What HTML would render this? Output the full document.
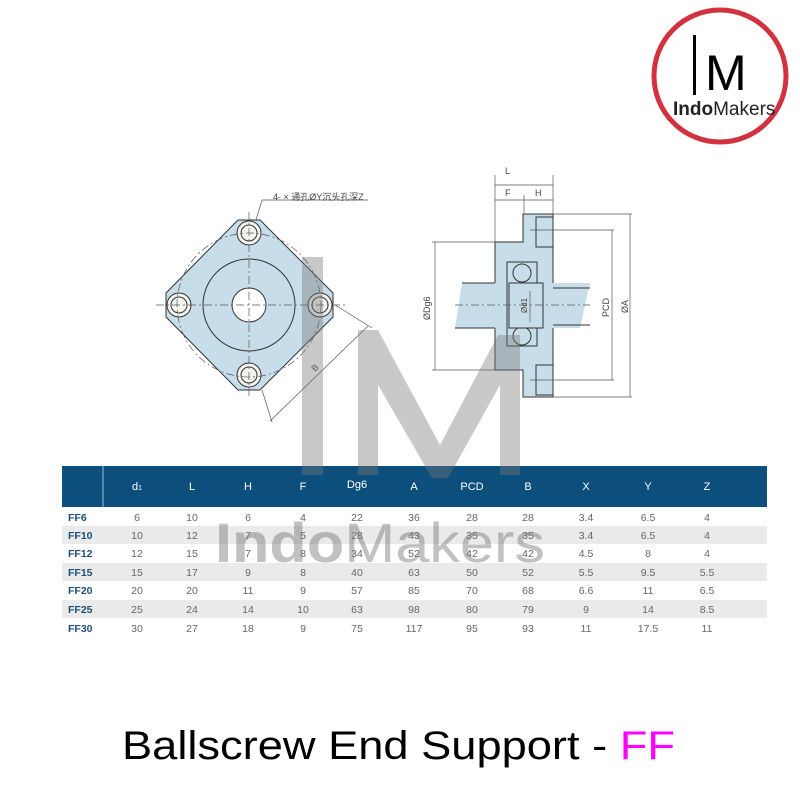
<!DOCTYPE html>
<html><head><meta charset="utf-8"><style>
html,body{margin:0;padding:0;background:#fff;}
svg{display:block;}
</style></head><body>
<svg width="800" height="800" viewBox="0 0 800 800" xmlns="http://www.w3.org/2000/svg" font-family="Liberation Sans, sans-serif">
<!-- logo -->
<circle cx="720" cy="76" r="66" fill="#fff" stroke="#d2323f" stroke-width="5"/>
<rect x="693" y="35" width="3" height="60" fill="#000"/>
<text x="705" y="90" font-size="50" fill="#000" font-weight="300">M</text>
<text x="673" y="115" font-size="19" fill="#222"><tspan font-weight="bold">Indo</tspan>Makers</text>

<!-- left drawing -->
<g stroke="#333" stroke-width="1">
<polygon points="238,220 260,220 333,293 333,317 260,390 238,390 166,317 166,293" fill="#c7dde9"/>
<circle cx="249" cy="305" r="46" fill="#c7dde9"/>
<circle cx="249" cy="305" r="17" fill="#fff"/>
<g fill="#f3f3f0">
<circle cx="249" cy="233" r="12"/><circle cx="179" cy="305" r="12"/><circle cx="320" cy="305" r="12"/><circle cx="249" cy="375" r="12"/>
</g>
<g fill="none"><circle cx="249" cy="233" r="8"/><circle cx="179" cy="305" r="8"/><circle cx="320" cy="305" r="8"/><circle cx="249" cy="375" r="8"/></g>
</g>
<g stroke="#555" stroke-width="0.7" stroke-dasharray="8,3,2,3" fill="none">
<line x1="156" y1="305" x2="345" y2="305"/><line x1="249" y1="212" x2="249" y2="398"/>
<circle cx="249" cy="305" r="72"/>
</g>
<g stroke="#555" stroke-width="0.7" fill="none">
<line x1="335" y1="305" x2="372" y2="328"/><line x1="262" y1="390" x2="272" y2="422"/>
<line x1="270" y1="421" x2="368" y2="326"/>
<line x1="262" y1="200" x2="368" y2="200"/><line x1="262" y1="200" x2="256" y2="220"/>
</g>
<text x="273" y="200" font-size="9" fill="#444" font-family="Liberation Sans, Noto Sans CJK SC, sans-serif">4- × 通孔ØY沉头孔深Z</text>
<text x="315" y="372" font-size="9" fill="#444" transform="rotate(-45 315 372)">B</text>

<!-- right drawing -->
<g stroke="#333" stroke-width="1" fill="#c7dde9">
<polygon points="495,242 523,242 523,214 553,214 553,397 523,397 523,370 495,370"/>
<polygon points="462,283 590,283 580,328 455,328" stroke="none"/>
<line x1="462" y1="283" x2="495" y2="283"/><line x1="455" y1="328" x2="495" y2="328"/>
<line x1="553" y1="288" x2="590" y2="288"/><line x1="553" y1="325" x2="590" y2="325"/>
<rect x="507" y="262" width="30" height="84" fill="#c7dde9"/>
<circle cx="522" cy="273" r="9" fill="#c7dde9"/><circle cx="522" cy="336" r="9" fill="#c7dde9"/>
<rect x="509" y="283" width="34" height="45" fill="#c7dde9"/>
<rect x="536" y="217" width="17" height="30" fill="#c7dde9"/><rect x="536" y="365" width="17" height="30" fill="#c7dde9"/>
</g>
<g stroke="#555" stroke-width="0.7" fill="none">
<line x1="495" y1="175" x2="495" y2="242"/><line x1="553" y1="175" x2="553" y2="214"/>
<line x1="495" y1="185" x2="553" y2="185"/><line x1="495" y1="200" x2="553" y2="200"/><line x1="524" y1="195" x2="524" y2="214"/>
<line x1="432" y1="242" x2="495" y2="242"/><line x1="432" y1="370" x2="495" y2="370"/><line x1="435" y1="242" x2="435" y2="370"/>
<line x1="553" y1="214" x2="632" y2="214"/><line x1="553" y1="397" x2="632" y2="397"/>
<line x1="530" y1="230" x2="614" y2="230"/><line x1="530" y1="380" x2="614" y2="380"/>
<line x1="612" y1="230" x2="612" y2="380"/><line x1="630" y1="214" x2="630" y2="397"/>
<line x1="530" y1="291" x2="530" y2="322"/>
<line x1="455" y1="305" x2="590" y2="305" stroke-dasharray="8,3,2,3"/>
</g>
<text x="505" y="174" font-size="9" fill="#444">L</text>
<text x="505" y="196" font-size="9" fill="#444">F</text>
<text x="535" y="196" font-size="9" fill="#444">H</text>
<text x="430" y="320" font-size="9" fill="#444" transform="rotate(-90 430 320)">ØDg6</text>
<text x="527" y="313" font-size="8" fill="#444" transform="rotate(-90 527 313)">Ød1</text>
<text x="609" y="317" font-size="9" fill="#444" transform="rotate(-90 609 317)">PCD</text>
<text x="628" y="313" font-size="9" fill="#444" transform="rotate(-90 628 313)">ØA</text>

<!-- table -->
<rect x="62" y="466" width="705" height="41" fill="#0d4f7c"/>
<line x1="103" y1="466" x2="103" y2="507" stroke="#9fbbd0" stroke-width="1"/>
<g fill="#eaeaea"><rect x="62" y="526" width="705" height="18"/><rect x="62" y="563" width="705" height="18"/><rect x="62" y="600" width="705" height="18"/></g>
<g font-size="11" fill="#fff" text-anchor="middle">
<text x="137" y="490">d<tspan font-size="7">1</tspan></text><text x="192" y="490">L</text><text x="248" y="490">H</text><text x="303" y="490">F</text><text x="357" y="488">Dg6</text><text x="414" y="490">A</text><text x="472" y="490">PCD</text><text x="528" y="490">B</text><text x="586" y="490">X</text><text x="648" y="490">Y</text><text x="707" y="490">Z</text>
</g>
<g font-size="10.5" font-weight="bold" fill="#1c4f78">
<text x="68" y="521">FF6</text><text x="68" y="539">FF10</text><text x="68" y="557">FF12</text><text x="68" y="576">FF15</text><text x="68" y="594">FF20</text><text x="68" y="613">FF25</text><text x="68" y="632">FF30</text>
</g>
<g font-size="10.5" fill="#666" text-anchor="middle">
<g transform="translate(0,521)"><text x="137">6</text><text x="192">10</text><text x="248">6</text><text x="303">4</text><text x="357">22</text><text x="414">36</text><text x="472">28</text><text x="528">28</text><text x="586">3.4</text><text x="648">6.5</text><text x="707">4</text></g>
<g transform="translate(0,539)"><text x="137">10</text><text x="192">12</text><text x="248">7</text><text x="303">5</text><text x="357">28</text><text x="414">43</text><text x="472">35</text><text x="528">35</text><text x="586">3.4</text><text x="648">6.5</text><text x="707">4</text></g>
<g transform="translate(0,557)"><text x="137">12</text><text x="192">15</text><text x="248">7</text><text x="303">8</text><text x="357">34</text><text x="414">52</text><text x="472">42</text><text x="528">42</text><text x="586">4.5</text><text x="648">8</text><text x="707">4</text></g>
<g transform="translate(0,576)"><text x="137">15</text><text x="192">17</text><text x="248">9</text><text x="303">8</text><text x="357">40</text><text x="414">63</text><text x="472">50</text><text x="528">52</text><text x="586">5.5</text><text x="648">9.5</text><text x="707">5.5</text></g>
<g transform="translate(0,594)"><text x="137">20</text><text x="192">20</text><text x="248">11</text><text x="303">9</text><text x="357">57</text><text x="414">85</text><text x="472">70</text><text x="528">68</text><text x="586">6.6</text><text x="648">11</text><text x="707">6.5</text></g>
<g transform="translate(0,613)"><text x="137">25</text><text x="192">24</text><text x="248">14</text><text x="303">10</text><text x="357">63</text><text x="414">98</text><text x="472">80</text><text x="528">79</text><text x="586">9</text><text x="648">14</text><text x="707">8.5</text></g>
<g transform="translate(0,632)"><text x="137">30</text><text x="192">27</text><text x="248">18</text><text x="303">9</text><text x="357">75</text><text x="414">117</text><text x="472">95</text><text x="528">93</text><text x="586">11</text><text x="648">17.5</text><text x="707">11</text></g>
</g>

<!-- watermark -->
<g fill="#777" opacity="0.4">
<rect x="302" y="257" width="21" height="218"/>
<polygon points="358,475 358,330 378,330 440,445 498,335 520,335 520,475 500,475 500,385 448,478 432,478 378,385 378,475"/>
</g>
<text x="215" y="562" font-size="56" fill="#777" opacity="0.45" textLength="330" lengthAdjust="spacingAndGlyphs"><tspan font-weight="bold">Indo</tspan>Makers</text>

<!-- title -->
<text x="122" y="759" font-size="40" fill="#000" textLength="553" lengthAdjust="spacingAndGlyphs">Ballscrew End Support - <tspan fill="#ff00ff">FF</tspan></text>
</svg>
</body></html>
